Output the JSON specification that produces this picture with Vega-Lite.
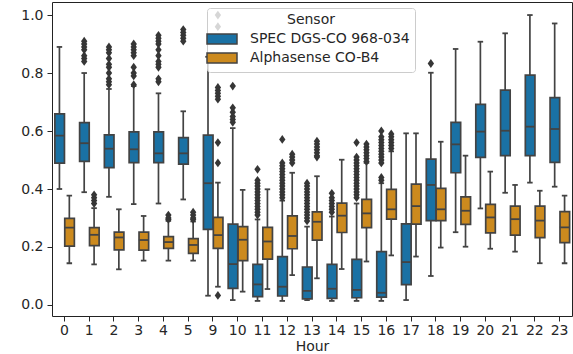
{
  "$schema": "https://vega.github.io/schema/vega-lite/v6.json",
  "width": 520,
  "height": 314,
  "autosize": {"type": "none"},
  "padding": {"left": 52, "top": 2, "right": 1, "bottom": 38},
  "background": "white",
  "config": {
    "font": "DejaVu Sans",
    "view": {"stroke": "#222222", "strokeWidth": 1},
    "axis": {"labelFont": "DejaVu Sans", "labelFontSize": 14, "labelColor": "#262626", "titleFont": "DejaVu Sans", "titleFontSize": 14, "titleFontWeight": "normal", "titleColor": "#262626", "domain": false, "grid": false, "tickColor": "#262626", "tickSize": 5, "tickWidth": 1}
  },
  "datasets": {
    "boxes": [
      {"Hour": "0", "Sensor": "SPEC DGS-CO 968-034", "lo": 0.40, "q1": 0.489, "med": 0.584, "q3": 0.659, "hi": 0.89},
      {"Hour": "1", "Sensor": "SPEC DGS-CO 968-034", "lo": 0.389, "q1": 0.495, "med": 0.558, "q3": 0.629, "hi": 0.80},
      {"Hour": "2", "Sensor": "SPEC DGS-CO 968-034", "lo": 0.373, "q1": 0.474, "med": 0.539, "q3": 0.587, "hi": 0.745},
      {"Hour": "3", "Sensor": "SPEC DGS-CO 968-034", "lo": 0.348, "q1": 0.491, "med": 0.537, "q3": 0.597, "hi": 0.755},
      {"Hour": "4", "Sensor": "SPEC DGS-CO 968-034", "lo": 0.350, "q1": 0.491, "med": 0.523, "q3": 0.597, "hi": 0.730},
      {"Hour": "5", "Sensor": "SPEC DGS-CO 968-034", "lo": 0.364, "q1": 0.486, "med": 0.523, "q3": 0.577, "hi": 0.668},
      {"Hour": "9", "Sensor": "SPEC DGS-CO 968-034", "lo": 0.032, "q1": 0.261, "med": 0.420, "q3": 0.586, "hi": 0.856},
      {"Hour": "10", "Sensor": "SPEC DGS-CO 968-034", "lo": 0.017, "q1": 0.057, "med": 0.141, "q3": 0.279, "hi": 0.61},
      {"Hour": "11", "Sensor": "SPEC DGS-CO 968-034", "lo": 0.014, "q1": 0.029, "med": 0.071, "q3": 0.140, "hi": 0.295},
      {"Hour": "12", "Sensor": "SPEC DGS-CO 968-034", "lo": 0.014, "q1": 0.031, "med": 0.063, "q3": 0.167, "hi": 0.36},
      {"Hour": "13", "Sensor": "SPEC DGS-CO 968-034", "lo": 0.017, "q1": 0.021, "med": 0.049, "q3": 0.131, "hi": 0.27},
      {"Hour": "14", "Sensor": "SPEC DGS-CO 968-034", "lo": 0.014, "q1": 0.023, "med": 0.056, "q3": 0.140, "hi": 0.305},
      {"Hour": "15", "Sensor": "SPEC DGS-CO 968-034", "lo": 0.014, "q1": 0.025, "med": 0.052, "q3": 0.157, "hi": 0.35},
      {"Hour": "16", "Sensor": "SPEC DGS-CO 968-034", "lo": 0.014, "q1": 0.027, "med": 0.042, "q3": 0.184, "hi": 0.42},
      {"Hour": "17", "Sensor": "SPEC DGS-CO 968-034", "lo": 0.017, "q1": 0.070, "med": 0.148, "q3": 0.280, "hi": 0.592},
      {"Hour": "18", "Sensor": "SPEC DGS-CO 968-034", "lo": 0.10, "q1": 0.291, "med": 0.414, "q3": 0.503, "hi": 0.801},
      {"Hour": "19", "Sensor": "SPEC DGS-CO 968-034", "lo": 0.251, "q1": 0.456, "med": 0.554, "q3": 0.630, "hi": 0.883},
      {"Hour": "20", "Sensor": "SPEC DGS-CO 968-034", "lo": 0.333, "q1": 0.509, "med": 0.598, "q3": 0.692, "hi": 0.908},
      {"Hour": "21", "Sensor": "SPEC DGS-CO 968-034", "lo": 0.387, "q1": 0.515, "med": 0.601, "q3": 0.741, "hi": 0.937},
      {"Hour": "22", "Sensor": "SPEC DGS-CO 968-034", "lo": 0.422, "q1": 0.515, "med": 0.615, "q3": 0.793, "hi": 1.0},
      {"Hour": "23", "Sensor": "SPEC DGS-CO 968-034", "lo": 0.408, "q1": 0.492, "med": 0.607, "q3": 0.715, "hi": 0.971},
      {"Hour": "0", "Sensor": "Alphasense CO-B4", "lo": 0.144, "q1": 0.203, "med": 0.267, "q3": 0.299, "hi": 0.377},
      {"Hour": "1", "Sensor": "Alphasense CO-B4", "lo": 0.140, "q1": 0.205, "med": 0.242, "q3": 0.267, "hi": 0.334},
      {"Hour": "2", "Sensor": "Alphasense CO-B4", "lo": 0.123, "q1": 0.190, "med": 0.233, "q3": 0.251, "hi": 0.330},
      {"Hour": "3", "Sensor": "Alphasense CO-B4", "lo": 0.153, "q1": 0.189, "med": 0.224, "q3": 0.251, "hi": 0.307},
      {"Hour": "4", "Sensor": "Alphasense CO-B4", "lo": 0.153, "q1": 0.195, "med": 0.217, "q3": 0.236, "hi": 0.290},
      {"Hour": "5", "Sensor": "Alphasense CO-B4", "lo": 0.153, "q1": 0.178, "med": 0.207, "q3": 0.229, "hi": 0.288},
      {"Hour": "9", "Sensor": "Alphasense CO-B4", "lo": 0.063, "q1": 0.195, "med": 0.241, "q3": 0.302, "hi": 0.422},
      {"Hour": "10", "Sensor": "Alphasense CO-B4", "lo": 0.046, "q1": 0.153, "med": 0.225, "q3": 0.270, "hi": 0.397},
      {"Hour": "11", "Sensor": "Alphasense CO-B4", "lo": 0.055, "q1": 0.158, "med": 0.219, "q3": 0.268, "hi": 0.399},
      {"Hour": "12", "Sensor": "Alphasense CO-B4", "lo": 0.103, "q1": 0.194, "med": 0.238, "q3": 0.307, "hi": 0.456},
      {"Hour": "13", "Sensor": "Alphasense CO-B4", "lo": 0.092, "q1": 0.224, "med": 0.287, "q3": 0.321, "hi": 0.444},
      {"Hour": "14", "Sensor": "Alphasense CO-B4", "lo": 0.124, "q1": 0.250, "med": 0.308, "q3": 0.351, "hi": 0.501},
      {"Hour": "15", "Sensor": "Alphasense CO-B4", "lo": 0.150, "q1": 0.267, "med": 0.316, "q3": 0.364, "hi": 0.49},
      {"Hour": "16", "Sensor": "Alphasense CO-B4", "lo": 0.171, "q1": 0.296, "med": 0.330, "q3": 0.399, "hi": 0.53},
      {"Hour": "17", "Sensor": "Alphasense CO-B4", "lo": 0.167, "q1": 0.279, "med": 0.341, "q3": 0.417, "hi": 0.592},
      {"Hour": "18", "Sensor": "Alphasense CO-B4", "lo": 0.198, "q1": 0.291, "med": 0.330, "q3": 0.402, "hi": 0.563},
      {"Hour": "19", "Sensor": "Alphasense CO-B4", "lo": 0.201, "q1": 0.278, "med": 0.325, "q3": 0.373, "hi": 0.515},
      {"Hour": "20", "Sensor": "Alphasense CO-B4", "lo": 0.194, "q1": 0.249, "med": 0.302, "q3": 0.347, "hi": 0.460},
      {"Hour": "21", "Sensor": "Alphasense CO-B4", "lo": 0.184, "q1": 0.241, "med": 0.296, "q3": 0.341, "hi": 0.414},
      {"Hour": "22", "Sensor": "Alphasense CO-B4", "lo": 0.144, "q1": 0.232, "med": 0.291, "q3": 0.341, "hi": 0.394},
      {"Hour": "23", "Sensor": "Alphasense CO-B4", "lo": 0.144, "q1": 0.215, "med": 0.268, "q3": 0.322, "hi": 0.377}
    ],
    "outliers": [
      {"Hour": "1", "Sensor": "SPEC DGS-CO 968-034", "value": 0.91},
      {"Hour": "1", "Sensor": "SPEC DGS-CO 968-034", "value": 0.90},
      {"Hour": "1", "Sensor": "SPEC DGS-CO 968-034", "value": 0.89},
      {"Hour": "1", "Sensor": "SPEC DGS-CO 968-034", "value": 0.88},
      {"Hour": "1", "Sensor": "SPEC DGS-CO 968-034", "value": 0.86},
      {"Hour": "1", "Sensor": "SPEC DGS-CO 968-034", "value": 0.85},
      {"Hour": "1", "Sensor": "SPEC DGS-CO 968-034", "value": 0.84},
      {"Hour": "2", "Sensor": "SPEC DGS-CO 968-034", "value": 0.89},
      {"Hour": "2", "Sensor": "SPEC DGS-CO 968-034", "value": 0.88},
      {"Hour": "2", "Sensor": "SPEC DGS-CO 968-034", "value": 0.87},
      {"Hour": "2", "Sensor": "SPEC DGS-CO 968-034", "value": 0.85},
      {"Hour": "2", "Sensor": "SPEC DGS-CO 968-034", "value": 0.83},
      {"Hour": "2", "Sensor": "SPEC DGS-CO 968-034", "value": 0.82},
      {"Hour": "2", "Sensor": "SPEC DGS-CO 968-034", "value": 0.80},
      {"Hour": "2", "Sensor": "SPEC DGS-CO 968-034", "value": 0.78},
      {"Hour": "2", "Sensor": "SPEC DGS-CO 968-034", "value": 0.77},
      {"Hour": "2", "Sensor": "SPEC DGS-CO 968-034", "value": 0.76},
      {"Hour": "3", "Sensor": "SPEC DGS-CO 968-034", "value": 0.90},
      {"Hour": "3", "Sensor": "SPEC DGS-CO 968-034", "value": 0.89},
      {"Hour": "3", "Sensor": "SPEC DGS-CO 968-034", "value": 0.88},
      {"Hour": "3", "Sensor": "SPEC DGS-CO 968-034", "value": 0.87},
      {"Hour": "3", "Sensor": "SPEC DGS-CO 968-034", "value": 0.86},
      {"Hour": "3", "Sensor": "SPEC DGS-CO 968-034", "value": 0.82},
      {"Hour": "3", "Sensor": "SPEC DGS-CO 968-034", "value": 0.80},
      {"Hour": "3", "Sensor": "SPEC DGS-CO 968-034", "value": 0.79},
      {"Hour": "3", "Sensor": "SPEC DGS-CO 968-034", "value": 0.76},
      {"Hour": "4", "Sensor": "SPEC DGS-CO 968-034", "value": 0.93},
      {"Hour": "4", "Sensor": "SPEC DGS-CO 968-034", "value": 0.92},
      {"Hour": "4", "Sensor": "SPEC DGS-CO 968-034", "value": 0.91},
      {"Hour": "4", "Sensor": "SPEC DGS-CO 968-034", "value": 0.90},
      {"Hour": "4", "Sensor": "SPEC DGS-CO 968-034", "value": 0.88},
      {"Hour": "4", "Sensor": "SPEC DGS-CO 968-034", "value": 0.86},
      {"Hour": "4", "Sensor": "SPEC DGS-CO 968-034", "value": 0.84},
      {"Hour": "4", "Sensor": "SPEC DGS-CO 968-034", "value": 0.83},
      {"Hour": "4", "Sensor": "SPEC DGS-CO 968-034", "value": 0.82},
      {"Hour": "4", "Sensor": "SPEC DGS-CO 968-034", "value": 0.78},
      {"Hour": "4", "Sensor": "SPEC DGS-CO 968-034", "value": 0.77},
      {"Hour": "5", "Sensor": "SPEC DGS-CO 968-034", "value": 0.95},
      {"Hour": "5", "Sensor": "SPEC DGS-CO 968-034", "value": 0.94},
      {"Hour": "5", "Sensor": "SPEC DGS-CO 968-034", "value": 0.93},
      {"Hour": "5", "Sensor": "SPEC DGS-CO 968-034", "value": 0.92},
      {"Hour": "5", "Sensor": "SPEC DGS-CO 968-034", "value": 0.91},
      {"Hour": "1", "Sensor": "Alphasense CO-B4", "value": 0.38},
      {"Hour": "1", "Sensor": "Alphasense CO-B4", "value": 0.37},
      {"Hour": "1", "Sensor": "Alphasense CO-B4", "value": 0.36},
      {"Hour": "1", "Sensor": "Alphasense CO-B4", "value": 0.35},
      {"Hour": "4", "Sensor": "Alphasense CO-B4", "value": 0.31},
      {"Hour": "4", "Sensor": "Alphasense CO-B4", "value": 0.30},
      {"Hour": "4", "Sensor": "Alphasense CO-B4", "value": 0.295},
      {"Hour": "5", "Sensor": "Alphasense CO-B4", "value": 0.32},
      {"Hour": "5", "Sensor": "Alphasense CO-B4", "value": 0.31},
      {"Hour": "5", "Sensor": "Alphasense CO-B4", "value": 0.30},
      {"Hour": "5", "Sensor": "Alphasense CO-B4", "value": 0.295},
      {"Hour": "9", "Sensor": "Alphasense CO-B4", "value": 1.0},
      {"Hour": "9", "Sensor": "Alphasense CO-B4", "value": 0.96},
      {"Hour": "9", "Sensor": "Alphasense CO-B4", "value": 0.75},
      {"Hour": "9", "Sensor": "Alphasense CO-B4", "value": 0.74},
      {"Hour": "9", "Sensor": "Alphasense CO-B4", "value": 0.73},
      {"Hour": "9", "Sensor": "Alphasense CO-B4", "value": 0.72},
      {"Hour": "9", "Sensor": "Alphasense CO-B4", "value": 0.71},
      {"Hour": "9", "Sensor": "Alphasense CO-B4", "value": 0.56},
      {"Hour": "9", "Sensor": "Alphasense CO-B4", "value": 0.49},
      {"Hour": "9", "Sensor": "Alphasense CO-B4", "value": 0.033},
      {"Hour": "10", "Sensor": "SPEC DGS-CO 968-034", "value": 0.755},
      {"Hour": "10", "Sensor": "SPEC DGS-CO 968-034", "value": 0.68},
      {"Hour": "10", "Sensor": "SPEC DGS-CO 968-034", "value": 0.665},
      {"Hour": "10", "Sensor": "SPEC DGS-CO 968-034", "value": 0.65},
      {"Hour": "10", "Sensor": "SPEC DGS-CO 968-034", "value": 0.64},
      {"Hour": "10", "Sensor": "SPEC DGS-CO 968-034", "value": 0.63},
      {"Hour": "11", "Sensor": "SPEC DGS-CO 968-034", "value": 0.468},
      {"Hour": "11", "Sensor": "SPEC DGS-CO 968-034", "value": 0.43},
      {"Hour": "11", "Sensor": "SPEC DGS-CO 968-034", "value": 0.42},
      {"Hour": "11", "Sensor": "SPEC DGS-CO 968-034", "value": 0.41},
      {"Hour": "11", "Sensor": "SPEC DGS-CO 968-034", "value": 0.40},
      {"Hour": "11", "Sensor": "SPEC DGS-CO 968-034", "value": 0.39},
      {"Hour": "11", "Sensor": "SPEC DGS-CO 968-034", "value": 0.38},
      {"Hour": "11", "Sensor": "SPEC DGS-CO 968-034", "value": 0.37},
      {"Hour": "11", "Sensor": "SPEC DGS-CO 968-034", "value": 0.36},
      {"Hour": "11", "Sensor": "SPEC DGS-CO 968-034", "value": 0.35},
      {"Hour": "11", "Sensor": "SPEC DGS-CO 968-034", "value": 0.34},
      {"Hour": "11", "Sensor": "SPEC DGS-CO 968-034", "value": 0.33},
      {"Hour": "11", "Sensor": "SPEC DGS-CO 968-034", "value": 0.32},
      {"Hour": "11", "Sensor": "SPEC DGS-CO 968-034", "value": 0.31},
      {"Hour": "12", "Sensor": "SPEC DGS-CO 968-034", "value": 0.571},
      {"Hour": "12", "Sensor": "SPEC DGS-CO 968-034", "value": 0.49},
      {"Hour": "12", "Sensor": "SPEC DGS-CO 968-034", "value": 0.48},
      {"Hour": "12", "Sensor": "SPEC DGS-CO 968-034", "value": 0.47},
      {"Hour": "12", "Sensor": "SPEC DGS-CO 968-034", "value": 0.46},
      {"Hour": "12", "Sensor": "SPEC DGS-CO 968-034", "value": 0.45},
      {"Hour": "12", "Sensor": "SPEC DGS-CO 968-034", "value": 0.44},
      {"Hour": "12", "Sensor": "SPEC DGS-CO 968-034", "value": 0.43},
      {"Hour": "12", "Sensor": "SPEC DGS-CO 968-034", "value": 0.42},
      {"Hour": "12", "Sensor": "SPEC DGS-CO 968-034", "value": 0.41},
      {"Hour": "12", "Sensor": "SPEC DGS-CO 968-034", "value": 0.40},
      {"Hour": "12", "Sensor": "SPEC DGS-CO 968-034", "value": 0.39},
      {"Hour": "12", "Sensor": "SPEC DGS-CO 968-034", "value": 0.38},
      {"Hour": "12", "Sensor": "SPEC DGS-CO 968-034", "value": 0.37},
      {"Hour": "12", "Sensor": "Alphasense CO-B4", "value": 0.52},
      {"Hour": "12", "Sensor": "Alphasense CO-B4", "value": 0.51},
      {"Hour": "12", "Sensor": "Alphasense CO-B4", "value": 0.50},
      {"Hour": "12", "Sensor": "Alphasense CO-B4", "value": 0.49},
      {"Hour": "13", "Sensor": "SPEC DGS-CO 968-034", "value": 0.42},
      {"Hour": "13", "Sensor": "SPEC DGS-CO 968-034", "value": 0.41},
      {"Hour": "13", "Sensor": "SPEC DGS-CO 968-034", "value": 0.40},
      {"Hour": "13", "Sensor": "SPEC DGS-CO 968-034", "value": 0.39},
      {"Hour": "13", "Sensor": "SPEC DGS-CO 968-034", "value": 0.38},
      {"Hour": "13", "Sensor": "SPEC DGS-CO 968-034", "value": 0.37},
      {"Hour": "13", "Sensor": "SPEC DGS-CO 968-034", "value": 0.36},
      {"Hour": "13", "Sensor": "SPEC DGS-CO 968-034", "value": 0.35},
      {"Hour": "13", "Sensor": "SPEC DGS-CO 968-034", "value": 0.34},
      {"Hour": "13", "Sensor": "SPEC DGS-CO 968-034", "value": 0.33},
      {"Hour": "13", "Sensor": "SPEC DGS-CO 968-034", "value": 0.32},
      {"Hour": "13", "Sensor": "SPEC DGS-CO 968-034", "value": 0.31},
      {"Hour": "13", "Sensor": "SPEC DGS-CO 968-034", "value": 0.30},
      {"Hour": "13", "Sensor": "SPEC DGS-CO 968-034", "value": 0.29},
      {"Hour": "13", "Sensor": "Alphasense CO-B4", "value": 0.565},
      {"Hour": "13", "Sensor": "Alphasense CO-B4", "value": 0.555},
      {"Hour": "13", "Sensor": "Alphasense CO-B4", "value": 0.545},
      {"Hour": "13", "Sensor": "Alphasense CO-B4", "value": 0.535},
      {"Hour": "13", "Sensor": "Alphasense CO-B4", "value": 0.525},
      {"Hour": "13", "Sensor": "Alphasense CO-B4", "value": 0.515},
      {"Hour": "13", "Sensor": "Alphasense CO-B4", "value": 0.51},
      {"Hour": "14", "Sensor": "SPEC DGS-CO 968-034", "value": 0.385},
      {"Hour": "14", "Sensor": "SPEC DGS-CO 968-034", "value": 0.37},
      {"Hour": "14", "Sensor": "SPEC DGS-CO 968-034", "value": 0.36},
      {"Hour": "14", "Sensor": "SPEC DGS-CO 968-034", "value": 0.35},
      {"Hour": "14", "Sensor": "SPEC DGS-CO 968-034", "value": 0.34},
      {"Hour": "14", "Sensor": "SPEC DGS-CO 968-034", "value": 0.33},
      {"Hour": "14", "Sensor": "SPEC DGS-CO 968-034", "value": 0.32},
      {"Hour": "15", "Sensor": "SPEC DGS-CO 968-034", "value": 0.56},
      {"Hour": "15", "Sensor": "SPEC DGS-CO 968-034", "value": 0.51},
      {"Hour": "15", "Sensor": "SPEC DGS-CO 968-034", "value": 0.50},
      {"Hour": "15", "Sensor": "SPEC DGS-CO 968-034", "value": 0.49},
      {"Hour": "15", "Sensor": "SPEC DGS-CO 968-034", "value": 0.48},
      {"Hour": "15", "Sensor": "SPEC DGS-CO 968-034", "value": 0.47},
      {"Hour": "15", "Sensor": "SPEC DGS-CO 968-034", "value": 0.46},
      {"Hour": "15", "Sensor": "SPEC DGS-CO 968-034", "value": 0.45},
      {"Hour": "15", "Sensor": "SPEC DGS-CO 968-034", "value": 0.44},
      {"Hour": "15", "Sensor": "SPEC DGS-CO 968-034", "value": 0.43},
      {"Hour": "15", "Sensor": "SPEC DGS-CO 968-034", "value": 0.42},
      {"Hour": "15", "Sensor": "SPEC DGS-CO 968-034", "value": 0.41},
      {"Hour": "15", "Sensor": "SPEC DGS-CO 968-034", "value": 0.40},
      {"Hour": "15", "Sensor": "SPEC DGS-CO 968-034", "value": 0.39},
      {"Hour": "15", "Sensor": "SPEC DGS-CO 968-034", "value": 0.38},
      {"Hour": "15", "Sensor": "SPEC DGS-CO 968-034", "value": 0.37},
      {"Hour": "15", "Sensor": "Alphasense CO-B4", "value": 0.555},
      {"Hour": "15", "Sensor": "Alphasense CO-B4", "value": 0.545},
      {"Hour": "15", "Sensor": "Alphasense CO-B4", "value": 0.535},
      {"Hour": "15", "Sensor": "Alphasense CO-B4", "value": 0.525},
      {"Hour": "15", "Sensor": "Alphasense CO-B4", "value": 0.515},
      {"Hour": "15", "Sensor": "Alphasense CO-B4", "value": 0.505},
      {"Hour": "15", "Sensor": "Alphasense CO-B4", "value": 0.495},
      {"Hour": "16", "Sensor": "SPEC DGS-CO 968-034", "value": 0.60},
      {"Hour": "16", "Sensor": "SPEC DGS-CO 968-034", "value": 0.58},
      {"Hour": "16", "Sensor": "SPEC DGS-CO 968-034", "value": 0.57},
      {"Hour": "16", "Sensor": "SPEC DGS-CO 968-034", "value": 0.56},
      {"Hour": "16", "Sensor": "SPEC DGS-CO 968-034", "value": 0.55},
      {"Hour": "16", "Sensor": "SPEC DGS-CO 968-034", "value": 0.54},
      {"Hour": "16", "Sensor": "SPEC DGS-CO 968-034", "value": 0.53},
      {"Hour": "16", "Sensor": "SPEC DGS-CO 968-034", "value": 0.52},
      {"Hour": "16", "Sensor": "SPEC DGS-CO 968-034", "value": 0.51},
      {"Hour": "16", "Sensor": "SPEC DGS-CO 968-034", "value": 0.50},
      {"Hour": "16", "Sensor": "SPEC DGS-CO 968-034", "value": 0.49},
      {"Hour": "16", "Sensor": "SPEC DGS-CO 968-034", "value": 0.44},
      {"Hour": "16", "Sensor": "SPEC DGS-CO 968-034", "value": 0.43},
      {"Hour": "16", "Sensor": "Alphasense CO-B4", "value": 0.59},
      {"Hour": "16", "Sensor": "Alphasense CO-B4", "value": 0.58},
      {"Hour": "16", "Sensor": "Alphasense CO-B4", "value": 0.57},
      {"Hour": "16", "Sensor": "Alphasense CO-B4", "value": 0.56},
      {"Hour": "16", "Sensor": "Alphasense CO-B4", "value": 0.55},
      {"Hour": "16", "Sensor": "Alphasense CO-B4", "value": 0.54},
      {"Hour": "18", "Sensor": "SPEC DGS-CO 968-034", "value": 0.833}
    ]
  },
  "encoding": {
    "x": {"field": "Hour", "type": "ordinal", "scale": {"domain": ["0","1","2","3","4","5","9","10","11","12","13","14","15","16","17","18","19","20","21","22","23"], "paddingInner": 0, "paddingOuter": 0}, "axis": {"title": "Hour", "labelAngle": 0, "labelPadding": 2, "titlePadding": 2}},
    "xOffset": {"field": "Sensor", "type": "nominal", "scale": {"domain": ["SPEC DGS-CO 968-034", "Alphasense CO-B4"], "paddingInner": 0, "paddingOuter": 0.25}}
  },
  "layer": [
    {
      "data": {"name": "boxes"},
      "mark": {"type": "rule", "color": "#434343", "strokeWidth": 1.7},
      "encoding": {
        "y": {"field": "lo", "type": "quantitative", "scale": {"domain": [-0.038, 1.045], "nice": false, "zero": false}, "axis": {"title": null, "values": [0, 0.2, 0.4, 0.6, 0.8, 1.0], "format": ".1f", "labelPadding": 4}},
        "y2": {"field": "hi"}
      }
    },
    {
      "data": {"name": "boxes"},
      "mark": {"type": "bar", "stroke": "#434343", "strokeWidth": 1.7, "width": {"band": 0.97}, "opacity": 1},
      "encoding": {
        "y": {"field": "q1", "type": "quantitative"},
        "y2": {"field": "q3"},
        "color": {"field": "Sensor", "type": "nominal", "scale": {"domain": ["SPEC DGS-CO 968-034", "Alphasense CO-B4"], "range": ["#1a71a4", "#cc8a1e"]},
          "legend": {"title": "Sensor", "orient": "none", "legendX": 155, "legendY": 6, "titleAnchor": "middle", "titleFontWeight": "normal", "titleFontSize": 14, "titleFont": "DejaVu Sans", "titleColor": "#262626", "titlePadding": 2, "labelFontSize": 14, "labelFont": "DejaVu Sans", "labelColor": "#262626", "labelOffset": 18, "symbolType": "M-1.667,-0.556H1.667V0.556H-1.667Z", "symbolSize": 324, "symbolStrokeColor": "#434343", "symbolStrokeWidth": 1.5, "symbolOpacity": 1, "rowPadding": -4, "padding": 5, "strokeColor": "#cccccc", "fillColor": "rgba(255,255,255,0.8)", "cornerRadius": 3}}
      }
    },
    {
      "data": {"name": "boxes"},
      "mark": {"type": "tick", "color": "#434343", "thickness": 1.8, "size": 9.5, "opacity": 1},
      "encoding": {"y": {"field": "med", "type": "quantitative"}}
    },
    {
      "data": {"name": "boxes"},
      "mark": {"type": "tick", "color": "#434343", "thickness": 1.8, "size": 5.5, "opacity": 1},
      "encoding": {"y": {"field": "lo", "type": "quantitative"}}
    },
    {
      "data": {"name": "boxes"},
      "mark": {"type": "tick", "color": "#434343", "thickness": 1.8, "size": 5.5, "opacity": 1},
      "encoding": {"y": {"field": "hi", "type": "quantitative"}}
    },
    {
      "data": {"name": "outliers"},
      "mark": {"type": "point", "shape": "M0,-1L0.72,0L0,1L-0.72,0Z", "filled": true, "size": 78, "color": "#363636", "opacity": 1},
      "encoding": {"y": {"field": "value", "type": "quantitative"}}
    }
  ]
}
